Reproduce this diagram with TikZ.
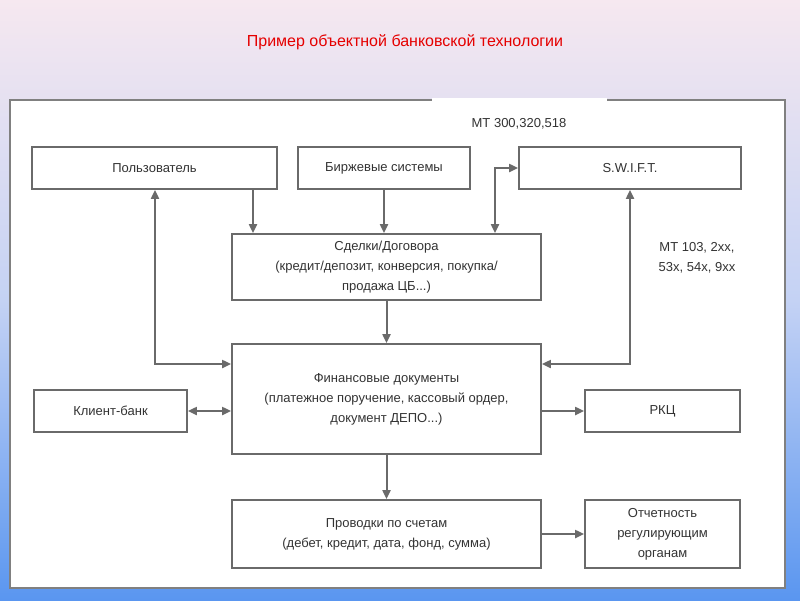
\documentclass[tikz,border=0pt]{standalone}
\usepackage{fontspec}
\setmainfont{Liberation Sans}
\usetikzlibrary{arrows.meta}
\definecolor{boxgray}{HTML}{6A6A6A}
\definecolor{bgtop}{HTML}{F6E8F0}
\definecolor{bgmid}{HTML}{C4D2F4}
\definecolor{bgbot}{HTML}{5A96F0}
\tikzset{
  blk/.style={draw=boxgray, line width=1.8pt, fill=white, align=center, inner sep=0pt,
    font=\fontsize{13}{20}\selectfont, text=black!80},
  line/.style={draw=boxgray, line width=2pt, -{Triangle[length=9pt,width=8pt]}},
  dline/.style={line, {Triangle[length=9pt,width=8pt]}-{Triangle[length=9pt,width=8pt]}}
}
\begin{document}
\begin{tikzpicture}[x=1pt,y=-1pt]
\useasboundingbox (0,0) rectangle (800,600);
\shade[top color=bgtop, bottom color=bgbot, middle color=bgmid] (0,0) rectangle (800,600);
\node[text=red!90!black, font=\fontsize{16}{18}\selectfont] (title) at (405,42) {Пример объектной банковской технологии};
% panel
\draw[draw=gray, line width=2pt, fill=white] (10,100) rectangle (785,588);
\fill[white] (432,98) rectangle (607,102);
% blocks
\node[blk, minimum width=245, minimum height=42] (user) at (154.5,168) {Пользователь};
\node[blk, minimum width=172, minimum height=42] (birzha) at (384,168) {Биржевые системы};
\node[blk, minimum width=222, minimum height=42] (swift) at (630,168) {S.W.I.F.T.};
\node[blk, minimum width=309, minimum height=66] (deal) at (386.5,267) {Сделки/Договора\\(кредит/депозит, конверсия, покупка/\\продажа ЦБ...)};
\node[blk, minimum width=309, minimum height=110] (fin) at (386.5,399) {Финансовые документы\\(платежное поручение, кассовый ордер,\\документ ДЕПО...)};
\node[blk, minimum width=153, minimum height=42] (client) at (110.5,411) {Клиент-банк};
\node[blk, minimum width=155, minimum height=42] (rkc) at (662.5,411) {РКЦ};
\node[blk, minimum width=309, minimum height=68] (post) at (386.5,534) {Проводки по счетам\\(дебет, кредит, дата, фонд, сумма)};
\node[blk, minimum width=155, minimum height=68] (report) at (662.5,534) {Отчетность\\регулирующим\\органам};
% labels
\node[font=\fontsize{13}{16}\selectfont, text=black!80] (mt1) at (519,124) {MT 300,320,518};
\node[font=\fontsize{13}{20}\selectfont, text=black!80, align=center] (mt2) at (697,258) {MT 103, 2xx,\\53x, 54x, 9xx};
% connectors
\coordinate (c1) at (155,364);
\coordinate (c2) at (630,364);
\coordinate (c3) at (495,168);
\draw[dline] (user.south -| c1) |- (fin.west |- c1);
\draw[dline] (swift.south -| c2) |- (fin.east |- c2);
\draw[line] (user.south -| 253,0) -- (deal.north -| 253,0);
\draw[line] (birzha) -- (deal.north -| birzha);
\draw[dline] (deal.north -| c3) |- (swift.west);
\draw[line] (deal.south -| fin) -- (fin.north);
\draw[dline] (client.east) -- (fin.west |- client.east);
\draw[line] (fin.east |- rkc.west) -- (rkc.west);
\draw[line] (fin.south) -- (post.north);
\draw[line] (post.east) -- (report.west);
\end{tikzpicture}
\end{document}
